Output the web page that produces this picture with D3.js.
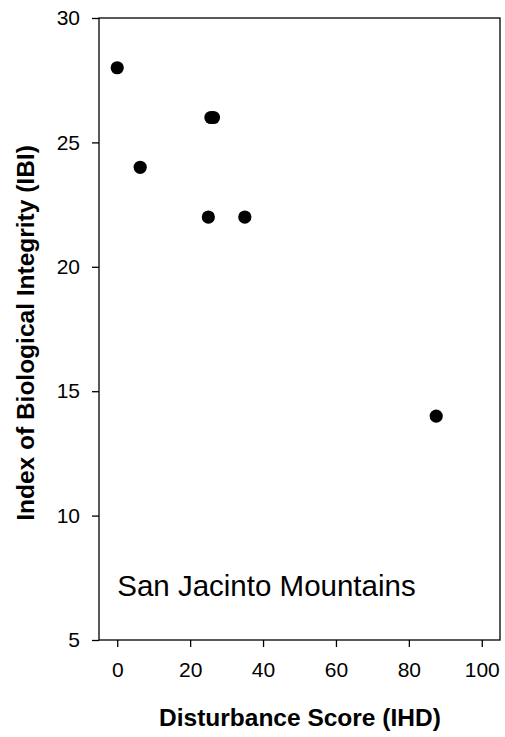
<!DOCTYPE html>
<html>
<head>
<meta charset="utf-8">
<script src="https://cdn.jsdelivr.net/npm/d3@7"></script>
<style>
  html, body { margin: 0; padding: 0; background: #fff; }
  svg { display: block; font-family: Arial, "Liberation Sans", sans-serif; }
</style>
</head>
<body>
<svg id="chart" width="505" height="737"></svg>
<script>
const disturbance = [0, 6.3, 25, 25.7, 26.4, 35, 87.5];
const ibi = [28, 24, 22, 26, 26, 22, 14];
const xTicks = [0, 20, 40, 60, 80, 100];
const yTicks = [5, 10, 15, 20, 25, 30];
const xTitle = "Disturbance Score (IHD)";
const yTitle = "Index of Biological Integrity (IBI)";
const annotation = "San Jacinto Mountains";

const svg = d3.select("#chart");
const plotL = 99, plotR = 500, plotT = 18, plotB = 640;

const x = d3.scaleLinear().domain([-5, 105]).range([plotL, plotR]);
const y = d3.scaleLinear().domain([5, 30]).range([plotB, plotT]);

// frame
svg.append("rect")
  .attr("x", plotL).attr("y", plotT)
  .attr("width", plotR - plotL).attr("height", plotB - plotT)
  .attr("fill", "none").attr("stroke", "#000").attr("stroke-width", 1.3);

const xAxis = svg.append("g")
  .attr("transform", `translate(0,${plotB})`)
  .call(d3.axisBottom(x).tickValues(xTicks).tickSize(7).tickPadding(15).tickSizeOuter(0));
xAxis.select(".domain").remove();
xAxis.selectAll("line").attr("stroke", "#000").attr("stroke-width", 1.3);
xAxis.selectAll("text").attr("font-size", 21).attr("fill", "#000")
  .attr("font-family", "Arial, 'Liberation Sans', sans-serif");

const yAxis = svg.append("g")
  .attr("transform", `translate(${plotL},0)`)
  .call(d3.axisLeft(y).tickValues(yTicks).tickSize(7).tickPadding(12).tickSizeOuter(0));
yAxis.select(".domain").remove();
yAxis.selectAll("line").attr("stroke", "#000").attr("stroke-width", 1.3);
yAxis.selectAll("text").attr("font-size", 21).attr("fill", "#000")
  .attr("font-family", "Arial, 'Liberation Sans', sans-serif");

// points
svg.append("g").selectAll("circle")
  .data(disturbance.map((d, i) => [d, ibi[i]]))
  .join("circle")
  .attr("cx", d => x(d[0]))
  .attr("cy", d => y(d[1]))
  .attr("r", 6.6)
  .attr("fill", "#000");

// annotation
svg.append("text")
  .attr("x", x(0)).attr("y", 596)
  .attr("font-size", 29.5)
  .attr("fill", "#000")
  .text(annotation);

// axis titles
svg.append("text")
  .attr("x", 159).attr("y", 726)
  .attr("font-size", 24.5).attr("font-weight", "bold")
  .attr("fill", "#000")
  .text(xTitle);

svg.append("text")
  .attr("transform", `translate(34,333) rotate(-90)`)
  .attr("text-anchor", "middle")
  .attr("font-size", 24.5).attr("font-weight", "bold")
  .attr("fill", "#000")
  .text(yTitle);
</script>
</body>
</html>
